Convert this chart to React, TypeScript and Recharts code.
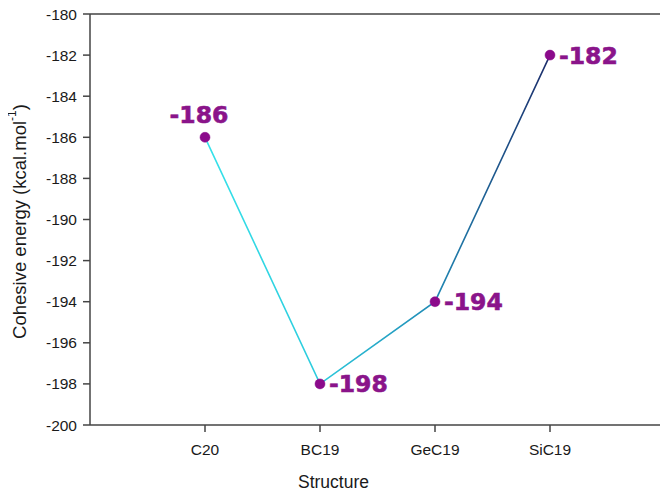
import React from 'react';
import { LineChart, Line, XAxis, YAxis, LabelList } from 'recharts';

// Cohesive energy per structure (kcal/mol)
const structures = ['C20', 'BC19', 'GeC19', 'SiC19'];
const cohesiveEnergy = [-186, -198, -194, -182];
const yTicks = [-200, -198, -196, -194, -192, -190, -188, -186, -184, -182, -180];
const xTicks = [1, 2, 3, 4];

const data = structures.map((name, i) => ({ pos: i + 1, name, energy: cohesiveEnergy[i] }));

const CHART_W = 668;
const CHART_H = 498;
const MARGIN = { top: 14, right: 3, bottom: 0, left: 0 };
const Y_AXIS_W = 90;
const X_AXIS_H = 73;
const PLOT_H = CHART_H - MARGIN.top - MARGIN.bottom - X_AXIS_H;

const AXIS = '#444444';
const TEXT = '#1a1a1a';
const PURPLE = '#8b0a8b';
const LABEL_PURPLE = '#8a148a';
const SANS = '"Liberation Sans", Arial, sans-serif';
const FRAME_W = 1.5;

const ValueLabel = (props: any) => {
  const { x, y, value, index } = props;
  const common = {
    fill: LABEL_PURPLE,
    stroke: LABEL_PURPLE,
    strokeWidth: 0.6,
    fontFamily: '"DejaVu Sans", Verdana, sans-serif',
    fontWeight: 700,
    fontSize: 23.5,
  } as const;
  if (index === 0) {
    return (
      <text x={x - 6} y={y - 14} textAnchor="middle" {...common}>
        {value}
      </text>
    );
  }
  return (
    <text x={x + 9} y={y + 8.5} textAnchor="start" {...common}>
      {value}
    </text>
  );
};

const YTitle = (props: any) => {
  const vb = props.viewBox || {};
  const cy = vb.y + vb.height / 2 + 2;
  const cx = 19;
  return (
    <text
      x={cx}
      y={cy}
      transform={`rotate(-90, ${cx}, ${cy})`}
      textAnchor="middle"
      dominantBaseline="central"
      fontFamily={SANS}
      fontSize={18.5}
      fill={TEXT}
    >
      Cohesive energy (kcal.mol
      <tspan dy={-7} fontSize={12}>-1</tspan>
      <tspan dy={7}>)</tspan>
    </text>
  );
};

// X-axis title; also closes the plot box with its top and right edges,
// using the axis viewBox (x range and plot bottom) it receives.
const XTitle = (props: any) => {
  const vb = props.viewBox || {};
  const left = vb.x;
  const right = vb.x + vb.width;
  const bottom = vb.y;
  const top = bottom - PLOT_H;
  return (
    <g>
      <path
        d={`M${left},${top}H${right}V${bottom}`}
        fill="none"
        stroke={AXIS}
        strokeWidth={FRAME_W}
      />
      <text
        x={vb.x + vb.width / 2 - 44}
        y={vb.y + 63}
        textAnchor="middle"
        fontFamily={SANS}
        fontSize={17.5}
        fill={TEXT}
      >
        Structure
      </text>
    </g>
  );
};

export default function App() {
  return (
    <div
      style={{
        marginLeft: -8,
        marginTop: -8,
        width: CHART_W,
        height: CHART_H,
        background: '#fff',
      }}
    >
      <LineChart width={CHART_W} height={CHART_H} data={data} margin={MARGIN}>
        <defs>
          <linearGradient id="energyLine" x1="0" y1="0" x2="1" y2="0">
            <stop offset="0" stopColor="#36e2ea" />
            <stop offset="0.33" stopColor="#2ccbdd" />
            <stop offset="0.67" stopColor="#2088b4" />
            <stop offset="1" stopColor="#1c2c6a" />
          </linearGradient>
        </defs>
        <XAxis
          dataKey="pos"
          type="number"
          domain={[0, 5]}
          ticks={xTicks}
          tickFormatter={(v: number) => structures[v - 1] ?? ''}
          axisLine={{ stroke: AXIS, strokeWidth: FRAME_W }}
          tickLine={{ stroke: AXIS, strokeWidth: FRAME_W }}
          tickSize={7}
          tickMargin={12}
          tick={{ fill: TEXT, fontSize: 15.5, fontFamily: SANS }}
          height={X_AXIS_H}
          label={<XTitle />}
        />
        <YAxis
          type="number"
          domain={[-200, -180]}
          ticks={yTicks}
          interval={0}
          axisLine={{ stroke: AXIS, strokeWidth: FRAME_W }}
          tickLine={{ stroke: AXIS, strokeWidth: FRAME_W }}
          tickSize={7}
          tickMargin={6}
          tick={{ fill: TEXT, fontSize: 15.5, fontFamily: SANS }}
          width={Y_AXIS_W}
          label={<YTitle />}
        />
        <Line
          type="linear"
          dataKey="energy"
          stroke="url(#energyLine)"
          strokeWidth={1.6}
          dot={{ r: 5, fill: PURPLE, stroke: PURPLE, strokeWidth: 0.5 }}
          activeDot={false}
          isAnimationActive={false}
        >
          <LabelList dataKey="energy" content={<ValueLabel />} />
        </Line>
      </LineChart>
    </div>
  );
}
